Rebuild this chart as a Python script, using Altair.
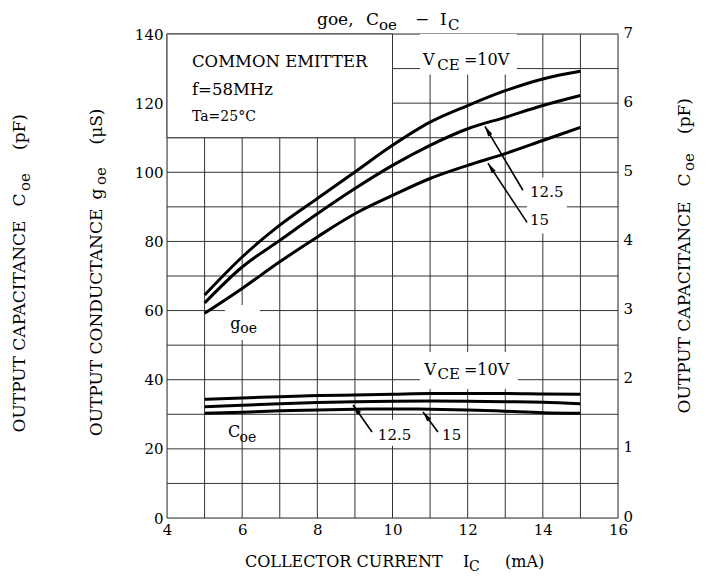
import altair as alt
import pandas as pd

# ---------------- data ----------------
ic = [5, 6, 7, 8, 9, 10, 11, 12, 13, 14, 15]                      # I_C (mA)
goe_10 = [64.5, 75.5, 84.7, 92.4, 100.1, 107.8, 114.5, 119.3, 123.6, 127.0, 129.2]   # uS
goe_125 = [62.2, 72.6, 80.3, 88.0, 95.3, 102.0, 107.8, 112.6, 115.9, 119.3, 122.2]
goe_15 = [59.2, 66.4, 74.1, 81.3, 88.0, 93.3, 98.2, 102.0, 105.4, 109.2, 113.0]
coe_10 = [1.718, 1.736, 1.755, 1.77, 1.78, 1.79, 1.80, 1.80, 1.80, 1.794, 1.79]       # pF
coe_125 = [1.61, 1.63, 1.654, 1.67, 1.683, 1.69, 1.693, 1.69, 1.683, 1.674, 1.654]
coe_15 = [1.516, 1.53, 1.55, 1.563, 1.573, 1.578, 1.573, 1.563, 1.544, 1.524, 1.516]
vce = ["10", "12.5", "15"]

x_ticks = [4, 6, 8, 10, 12, 14, 16]
y_ticks = [0, 20, 40, 60, 80, 100, 120, 140]
y2_ticks = [0, 1, 2, 3, 4, 5, 6, 7]
x_grid = list(range(4, 17))
y_grid = list(range(0, 141, 10))

FONT = "DejaVu Serif"
INK = "#000000"
GRID = "#333333"

goe_df = pd.DataFrame({
    "ic": ic * 3,
    "v": goe_10 + goe_125 + goe_15,
    "s": [vce[0]] * 11 + [vce[1]] * 11 + [vce[2]] * 11,
})
coe_df = pd.DataFrame({
    "ic": ic * 3,
    "v": coe_10 + coe_125 + coe_15,
    "s": [vce[0]] * 11 + [vce[1]] * 11 + [vce[2]] * 11,
})

XS = alt.Scale(domain=[4, 16], nice=False, zero=False)
YS = alt.Scale(domain=[0, 140], nice=False)
XAX = alt.Axis(values=x_ticks, grid=False, ticks=False, domain=False, labelPadding=4,
               labelFont=FONT, labelFontSize=15, labelColor=INK, title=None, labelFlush=False)
YAX = alt.Axis(values=y_ticks, grid=False, ticks=False, domain=False, labelPadding=4,
               labelFont=FONT, labelFontSize=15, labelColor=INK, title=None, orient="left")


def X(f):
    return alt.X(f, type="quantitative", scale=XS, axis=XAX, title=None)


def Y(f):
    return alt.Y(f, type="quantitative", scale=YS, axis=YAX, title=None)


# grid
vgrid = alt.Chart(pd.DataFrame({"x": x_grid})).mark_rule(color=GRID, strokeWidth=1).encode(x=X("x"))
hgrid = alt.Chart(pd.DataFrame({"y": y_grid})).mark_rule(color=GRID, strokeWidth=1).encode(y=Y("y"))

# legend box (with border) and white label backgrounds
box = alt.Chart(pd.DataFrame({"x": [4], "x2": [10], "y": [110], "y2": [140]})).mark_rect(
    fill="white", stroke=GRID, strokeWidth=1).encode(x=X("x"), x2="x2", y=Y("y"), y2="y2")
bg = pd.DataFrame({
    "x": [10.73, 10.73, 5.54, 13.58, 9.56, 11.16],
    "x2": [13.31, 13.34, 6.47, 14.64, 10.52, 11.85],
    "y": [128.3, 37.3, 51.5, 82.3, 20.9, 20.9],
    "y2": [140, 48.0, 61.6, 98.5, 28.4, 28.4],
})
white = alt.Chart(bg).mark_rect(fill="white").encode(x=X("x"), x2="x2", y=Y("y"), y2="y2")

goe_lines = alt.Chart(goe_df).mark_line(color=INK, strokeWidth=3, interpolate="monotone").encode(
    x=X("ic"), y=Y("v"), detail="s:N")

# arrows
arr = pd.DataFrame({
    "x": [13.47, 13.58, 9.455, 11.21],
    "y": [94.8, 85.5, 24.9, 24.9],
    "x2": [12.46, 12.54, 8.95, 10.81],
    "y2": [113.3, 102.6, 32.7, 30.7],
    "a": [329.3, 326.5, 324.9, 323.1],
})
arrows = alt.Chart(arr).mark_rule(color=INK, strokeWidth=1.6).encode(
    x=X("x"), y=Y("y"), x2="x2", y2="y2")
heads = alt.Chart(arr).mark_point(shape="M0,0L-0.6,2.6L0.6,2.6Z", filled=True, color=INK,
                                  size=64, opacity=1).encode(
    x=X("x2"), y=Y("y2"), angle=alt.Angle("a:Q", scale=None))


def dtext(x, y, s, size=16, baseline="alphabetic", align="left"):
    return alt.Chart(pd.DataFrame({"x": [x], "y": [y], "t": [s]})).mark_text(
        font=FONT, fontSize=size, color=INK, align=align, baseline=baseline).encode(
        x=X("x"), y=Y("y"), text="t:N")


def ptext(x, y, s, size=16, baseline="alphabetic", align="left", angle=0):
    return alt.Chart(pd.DataFrame({"t": [s]})).mark_text(
        font=FONT, fontSize=size, color=INK, align=align, baseline=baseline, angle=angle).encode(
        x=alt.value(x), y=alt.value(y), text="t:N")


texts = [
    dtext(4.665, 132.0, "COMMON EMITTER", 16.5, "middle"),
    dtext(4.665, 123.7, "f=58MHz", 16.5, "middle"),
    dtext(4.665, 115.9, "Ta=25°C", 14, "middle"),
    # VCE labels
    dtext(10.81, 130.9, "V", 16), dtext(11.19, 129.6, "CE", 15), dtext(11.9, 130.9, "=10V", 16),
    dtext(10.85, 41.4, "V", 16), dtext(11.20, 40.1, "CE", 15), dtext(11.9, 41.4, "=10V", 16),
    # curve labels
    dtext(5.68, 54.8, "g", 16), dtext(5.95, 53.4, "oe", 14),
    dtext(5.62, 23.4, "C", 16), dtext(5.93, 22.1, "oe", 14),
    dtext(13.66, 92.8, "12.5", 15), dtext(13.66, 84.7, "15", 15),
    dtext(9.61, 22.6, "12.5", 15), dtext(11.32, 22.6, "15", 15),
    # chart title
    ptext(150, -9, "goe,", 17), ptext(199, -9, "C", 17), ptext(212, -4, "oe", 15),
    ptext(248, -9, "−", 17), ptext(273, -9, "I", 17), ptext(281, -4, "C", 15),
    # x axis title
    ptext(78, 533, "COLLECTOR CURRENT", 16), ptext(296, 533, "I", 16), ptext(302, 537, "C", 14),
    ptext(338, 533, "(mA)", 16),
    # left title 1
    ptext(-147, 292.5, "OUTPUT CAPACITANCE", 17, "middle", "center", 270),
    ptext(-147, 166, "C", 17, "middle", "center", 270),
    ptext(-142, 148, "oe", 15, "middle", "center", 270),
    ptext(-147, 98, "(pF)", 17, "middle", "center", 270),
    # left title 2
    ptext(-70, 288.5, "OUTPUT CONDUCTANCE", 17, "middle", "center", 270),
    ptext(-70, 160, "g", 17, "middle", "center", 270),
    ptext(-66, 142, "oe", 15, "middle", "center", 270),
    ptext(-70, 92.5, "(μS)", 17, "middle", "center", 270),
    # right title
    ptext(518, 273.5, "OUTPUT CAPACITANCE", 17, "middle", "center", 270),
    ptext(518, 146, "C", 17, "middle", "center", 270),
    ptext(522, 128, "oe", 15, "middle", "center", 270),
    ptext(518, 82, "(pF)", 17, "middle", "center", 270),
]

left = alt.layer(vgrid, hgrid, box, white, goe_lines, arrows, heads, *texts)

coe_lines = alt.Chart(coe_df).mark_line(color=INK, strokeWidth=3, interpolate="monotone").encode(
    x=X("ic"),
    y=alt.Y("v:Q", scale=alt.Scale(domain=[0, 7], nice=False), title=None,
            axis=alt.Axis(values=y2_ticks, orient="right", grid=False, ticks=False, domain=False,
                          labelPadding=5, labelFont=FONT, labelFontSize=15, labelColor=INK,
                          labelOffset=-2, title=None)),
    detail="s:N")

chart = alt.layer(left, coe_lines).resolve_scale(y="independent").properties(
    width=451, height=484,
    autosize=alt.AutoSizeParams(type="none"),
    padding={"left": 159, "top": 26, "right": 81, "bottom": 55},
).configure_view(stroke=INK, strokeWidth=2).configure(background="white")

chart.save("out.html", embed_options={"renderer": "svg", "actions": False})
